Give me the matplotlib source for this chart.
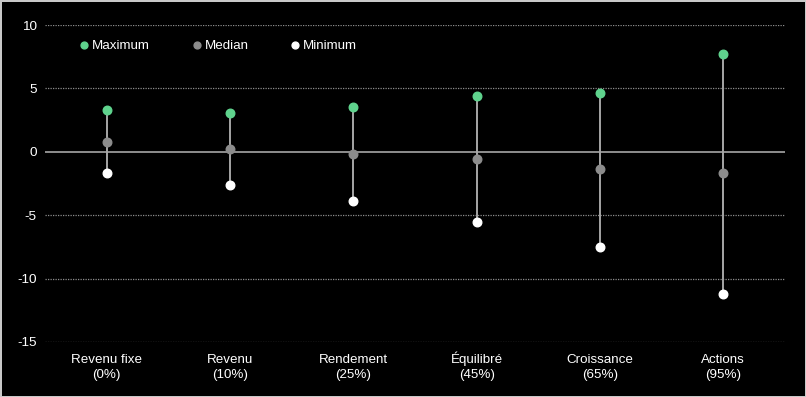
import matplotlib.pyplot as plt
import matplotlib.transforms as mtransforms

# data
categories = ["Revenu fixe\n(0%)", "Revenu\n(10%)", "Rendement\n(25%)",
              "Équilibré\n(45%)", "Croissance\n(65%)", "Actions\n(95%)"]
maximum = [3.3, 3.05, 3.5, 4.4, 4.6, 7.7]
median  = [0.8, 0.2, -0.2, -0.6, -1.35, -1.65]
minimum = [-1.7, -2.65, -3.9, -5.55, -7.5, -11.2]
yticks  = [-15, -10, -5, 0, 5, 10]

plt.rcParams['font.family'] = ['Liberation Sans', 'DejaVu Sans']
plt.rcParams['axes.unicode_minus'] = False

fig = plt.figure(figsize=(8.06, 3.97), dpi=100, facecolor='black',
                 edgecolor='#c8c8c8', linewidth=2)
ax = fig.add_axes([45/806, 1-342/397, 740/806, 317/397])
ax.set_facecolor('black')

x = list(range(len(categories)))

# grid lines
for t in yticks:
  if t == 0:
    ax.axhline(t, color='#a6a6a6', lw=1.2, zorder=1)
  else:
    ax.axhline(t, color='#8c8c8c', lw=0.9, ls=(0, (1, 1)), zorder=1)

# range lines
ax.vlines(x, minimum, maximum, color='#a6a6a6', lw=1.4, zorder=2)

ax.scatter(x, maximum, s=38, color='#5fd38d', zorder=3, label='Maximum')
ax.scatter(x, median, s=38, color='#8c8c8c', zorder=3, label='Median')
ax.scatter(x, minimum, s=38, color='white', zorder=3, label='Minimum')

ax.set_xlim(-0.5, len(categories) - 0.5)
ax.set_ylim(-15, 10)
ax.set_yticks(yticks)
ax.set_xticks(x)
ax.set_xticklabels([])
ax.tick_params(colors='white', labelsize=9.7, length=0)
ax.tick_params(axis='y', pad=6)
for s in ax.spines.values():
  s.set_visible(False)

# category labels, aligned on baseline
trans = mtransforms.blended_transform_factory(ax.transData, fig.transFigure)
for xi, lab in zip(x, categories):
  ax.text(xi, 1 - 378/397, lab, transform=trans, ha='center', va='baseline',
          color='white', fontsize=9.6, linespacing=1.3, multialignment='center')

leg = ax.legend(loc='upper left', bbox_to_anchor=(0.041, 0.972), ncol=3,
                frameon=False, handlelength=0.5, handletextpad=0.35,
                columnspacing=3.25, fontsize=9.6, markerscale=0.8,
                borderaxespad=0)
for t in leg.get_texts():
  t.set_color('white')

fig.savefig('out.png', dpi=100, facecolor='black', edgecolor='#c8c8c8')
